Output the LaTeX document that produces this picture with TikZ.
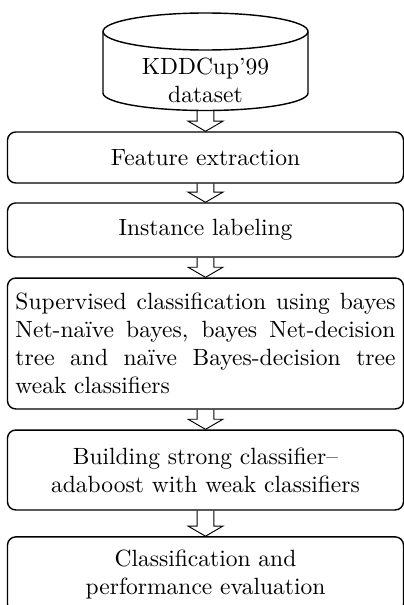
\documentclass[tikz,border=0pt]{standalone}
\usepackage{tikz}
\usetikzlibrary{calc}

\tikzset{
  flow/.style={draw, line width=0.6pt, rounded corners=3.5pt, minimum width=168.5pt, align=center},
  fatarrow/.style={draw, line width=0.6pt, to path={
      let \p1=(\tikztostart), \p2=(\tikztotarget) in
      (\x1-3.6pt,\y1) -- (\x1-3.6pt,\y2+4.3pt) -- (\x1-7.4pt,\y2+4.3pt) -- (\x1,\y2)
      -- (\x1+7.4pt,\y2+4.3pt) -- (\x1+3.6pt,\y2+4.3pt) -- (\x1+3.6pt,\y1)}}
}

\begin{document}
\begin{tikzpicture}[x=0.4255pt, y=0.4255pt]
    \useasboundingbox (0,0) rectangle (404,-605);
    \clip (0,0) rectangle (404,-605);
    % Database cylinder
    \draw[line width=0.6pt] (103,-31.5) -- (103,-93)
      arc[start angle=180, end angle=360, x radius=102.5, y radius=17.5] -- (308,-31.5);
    \draw[line width=0.6pt] (205.5,-31.5) ellipse [x radius=102.5, y radius=18.5];
    \node[align=center] (data) at (205.5,-80) {KDDCup'99\\dataset};
    \coordinate (dbbottom) at (205.5,-110.5);
    % Steps
    \node[flow, minimum height=21.7pt] (feat) at (205.5,-157.5) {Feature extraction};
    \node[flow, minimum height=23pt] (label) at (205.5,-230) {Instance labeling};
    \node[flow, minimum height=55.7pt, text width=161.7pt, align=justify] (superv) at (205.5,-343.5)
      {Supervised classification using bayes\linebreak
       Net-naïve bayes, bayes Net-decision\linebreak
       tree and naïve Bayes-decision tree\linebreak
       weak classifiers};
    \node[flow, minimum height=34pt] (boost) at (205.5,-470)
      {Building strong classifier--\\adaboost with weak classifiers};
    \node[flow, minimum height=32pt] (eval) at (205.5,-574.5)
      {Classification and\\performance evaluation};
    % Arrows
    \draw (dbbottom) to[fatarrow] (feat.north);
    \draw (feat.south) to[fatarrow] (label.north);
    \draw (label.south) to[fatarrow] (superv.north);
    \draw (superv.south) to[fatarrow] (boost.north);
    \draw (boost.south) to[fatarrow] (eval.north);
  \end{tikzpicture}
\end{document}
